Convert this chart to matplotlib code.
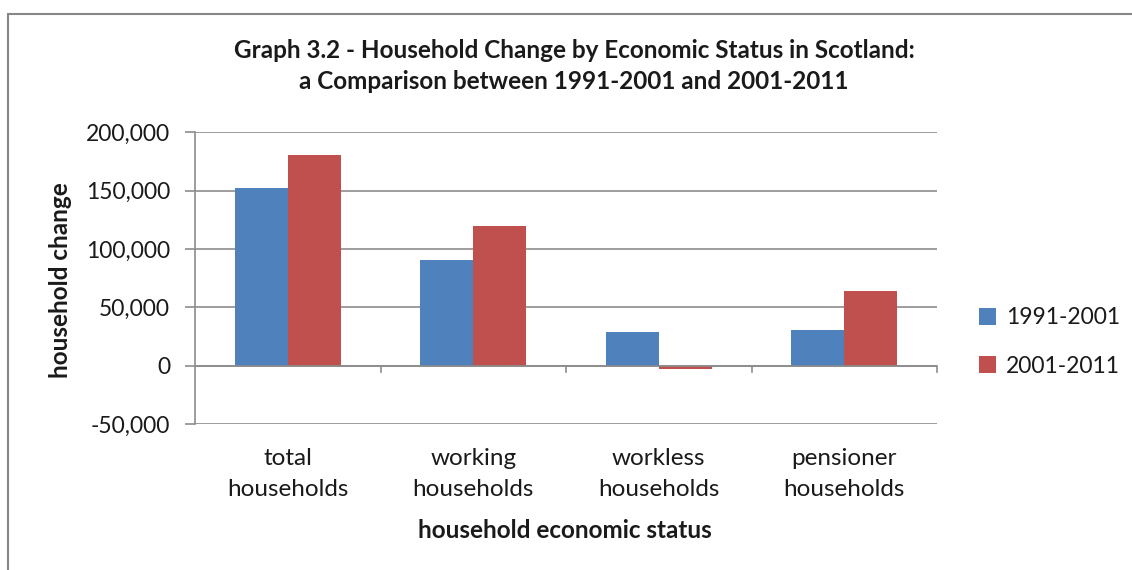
import matplotlib.pyplot as plt
import numpy as np
from matplotlib.patches import Rectangle
from matplotlib.ticker import FuncFormatter

categories = ["total\nhouseholds", "working\nhouseholds",
              "workless\nhouseholds", "pensioner\nhouseholds"]
periods = ["1991-2001", "2001-2011"]
change_1991_2001 = [152000, 91000, 28500, 31000]
change_2001_2011 = [181000, 120000, -2800, 64000]

_BLUE = "#4f81bd"
_RED = "#c0504d"
_GRID = "#8c8c8c"
_TEXT = "#1a1a1a"

plt.rcParams["font.family"] = ["Lato", "DejaVu Sans"]

fig = plt.figure(figsize=(11.32, 5.70), dpi=100, facecolor="white")
# outer chart frame
fig.patches.append(Rectangle((8 / 1132, -0.1), 1.2, (570 - 14) / 570 + 0.1,
                             transform=fig.transFigure, fill=False,
                             edgecolor="#878787", linewidth=1.5))

ax = fig.add_axes([195 / 1132, 1 - 424 / 570, (937 - 195) / 1132, (424 - 132.5) / 570])

x = np.arange(len(categories))
w = 1 / 3.5
ax.bar(x - w / 2, change_1991_2001, w, color=_BLUE, label=periods[0], zorder=3)
ax.bar(x + w / 2, change_2001_2011, w, color=_RED, label=periods[1], zorder=3)

ax.set_xlim(-0.5, len(categories) - 0.5)
ax.set_ylim(-50000, 200000)
ax.set_yticks(np.arange(-50000, 200001, 50000))
ax.yaxis.set_major_formatter(FuncFormatter(lambda v, _: f"{int(v):,}"))
ax.grid(axis="y", color=_GRID, linewidth=1.2, zorder=0)
ax.set_axisbelow(True)

for side in ("top", "right", "bottom"):
    ax.spines[side].set_visible(False)
ax.spines["left"].set_color(_GRID)
ax.spines["left"].set_linewidth(1.2)

# category axis drawn through zero with boundary ticks
ax.axhline(0, color=_GRID, linewidth=1.2, zorder=4)
for b in np.arange(0.5, len(categories) - 0.5 + 0.01, 1.0):
    ax.plot([b, b], [0, -5500], color=_GRID, linewidth=1.2, zorder=4,
            clip_on=False)
ax.set_xticks([])

ax.tick_params(axis="y", length=7, width=1.2, color=_GRID,
               labelsize=16.5, labelcolor=_TEXT, pad=11)

for xi, lab in zip(x, categories):
    ax.text(xi, -0.082, lab, transform=ax.get_xaxis_transform(),
            ha="center", va="top", fontsize=17.5, color=_TEXT,
            linespacing=1.6)

fig.text(565 / 1132, 1 - 531 / 570, "household economic status",
         ha="center", va="center", fontsize=17.5, fontweight="bold", color=_TEXT)
fig.text(60 / 1132, 1 - 280 / 570, "household change", rotation=90,
         ha="center", va="center", fontsize=17.5, fontweight="bold", color=_TEXT)
fig.text(574 / 1132, 1 - 66 / 570,
         "Graph 3.2 - Household Change by Economic Status in Scotland:\n"
         "a Comparison between 1991-2001 and 2001-2011",
         ha="center", va="center", fontsize=17.5, fontweight="bold",
         color=_TEXT, linespacing=1.45)

leg = fig.legend(loc="center left", bbox_to_anchor=(958 / 1132, 1 - 342 / 570),
                 frameon=False, fontsize=16.5, handlelength=0.75, handleheight=0.75,
                 handletextpad=0.45, labelspacing=1.2)
for t in leg.get_texts():
    t.set_color(_TEXT)

fig.savefig("out.png", dpi=100)
